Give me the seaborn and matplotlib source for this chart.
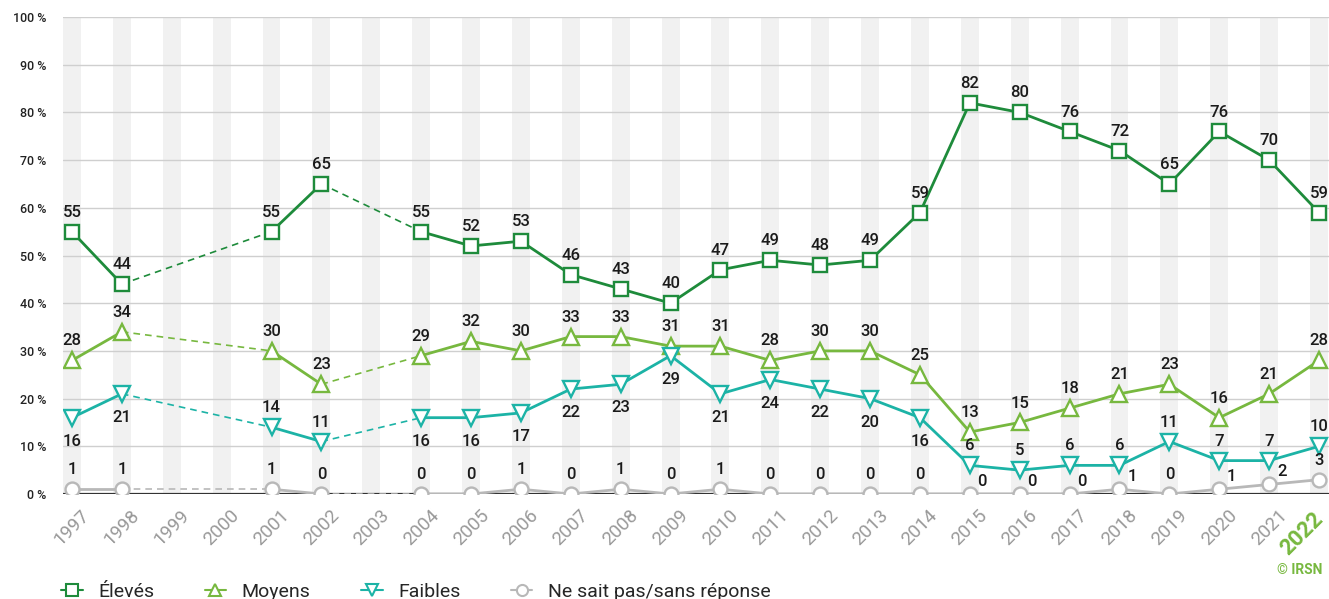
import numpy as np
import pandas as pd
import matplotlib.pyplot as plt
from matplotlib.lines import Line2D
import seaborn as sns

# %% data
years = [1997, 1998, 2001, 2002, 2004, 2005, 2006, 2007, 2008, 2009, 2010, 2011,
         2012, 2013, 2014, 2015, 2016, 2017, 2018, 2019, 2020, 2021, 2022]
eleves = [55, 44, 55, 65, 55, 52, 53, 46, 43, 40, 47, 49, 48, 49, 59, 82, 80, 76, 72, 65, 76, 70, 59]
moyens = [28, 34, 30, 23, 29, 32, 30, 33, 33, 31, 31, 28, 30, 30, 25, 13, 15, 18, 21, 23, 16, 21, 28]
faibles = [16, 21, 14, 11, 16, 16, 17, 22, 23, 29, 21, 24, 22, 20, 16, 6, 5, 6, 6, 11, 7, 7, 10]
nsp = [1, 1, 1, 0, 0, 0, 1, 0, 1, 0, 1, 0, 0, 0, 0, 0, 0, 0, 1, 0, 1, 2, 3]
tick_years = list(range(1997, 2023))
series_names = ["Élevés", "Moyens", "Faibles", "Ne sait pas/sans réponse"]

# %% style
colors = ["#1e8b3b", "#77b83f", "#1cb3a6", "#b8b8b8"]
markers = ["s", "^", "v", "o"]
msizes = [10, 11.5, 11.5, 10]
# label placement: a = above, b = below, r = above right
place_faibles = list("bbaabbbbbbbbbbbaaaaaaaa")
place_nsp = list("aaaaaaaaaaaaaaarrrrarra")
placements = [["a"] * len(years), ["a"] * len(years), place_faibles, place_nsp]

df = pd.DataFrame({"year": years})
for name, vals in zip(series_names, [eleves, moyens, faibles, nsp]):
    df[name] = vals
long = df.melt(id_vars="year", var_name="serie", value_name="value")
# contiguous segments
seg = np.cumsum(np.r_[0, np.diff(years) != 1])
long["seg"] = np.tile(seg, len(series_names))

sns.set_theme(style="white")
plt.rcParams["font.family"] = ["Roboto", "DejaVu Sans"]

fig = plt.figure(figsize=(13.29, 5.99), dpi=100)
ax = fig.add_axes([0.0474, 0.1753, 0.9526, 0.7963])

# background bands
for y in tick_years:
    ax.axvspan(y - 0.18, y + 0.18, ymin=0, ymax=1, color="#f1f1f1", zorder=0, lw=0)
for v in range(10, 101, 10):
    ax.axhline(v, color="#cfcfcf", lw=1, zorder=1)
ax.axhline(0, color="#333333", lw=1.6, zorder=2)

for i, name in enumerate(series_names):
    sub = long[long["serie"] == name]
    sns.lineplot(data=sub, x="year", y="value", units="seg", estimator=None,
                 color=colors[i], lw=2, ax=ax, zorder=3 + i * 0.1, legend=False)
    # dashed links across missing years
    vals = sub["value"].to_numpy()
    for k in range(len(years) - 1):
        if years[k + 1] - years[k] > 1:
            ax.plot([years[k], years[k + 1]], [vals[k], vals[k + 1]], color=colors[i],
                    lw=1.2, ls=(0, (4, 3)), zorder=3)
    ax.plot(years, vals, ls="none", marker=markers[i], ms=msizes[i], mfc="white",
            mec=colors[i], mew=1.7, zorder=5 + i * 0.1)
    for x, v, p in zip(years, vals, placements[i]):
        off = {"a": (0, 14), "b": (0, -17), "r": (9, 9)}[p]
        ax.annotate(str(v), (x, v), xytext=off, textcoords="offset points",
                    ha="center", va="center", fontsize=12, fontweight="medium",
                    color="#1a1a1a", zorder=6)

ax.set_xlim(1996.82, 2022.2)
ax.set_ylim(0, 100)
ax.set_yticks(range(0, 101, 10))
ax.set_yticklabels([f"{v} %" for v in range(0, 101, 10)], fontsize=9,
                   fontweight="medium", color="#222222")
ax.set_xticks(tick_years)
ax.set_xticklabels([str(y) for y in tick_years[:-1]] + [""], rotation=45, ha="center",
                   fontsize=13.5, color="#999999")
# last year highlighted, shifted left so it stays inside the figure
ax.annotate(str(tick_years[-1]), (tick_years[-1], 0), xycoords=("data", "axes fraction"),
            xytext=(-12, -10), textcoords="offset points", rotation=45,
            ha="center", va="top", fontsize=16, fontweight="bold", color=colors[1])
ax.tick_params(axis="both", length=0)
ax.tick_params(axis="y", pad=12)
ax.tick_params(axis="x", pad=9)
ax.set_xlabel("")
ax.set_ylabel("")
for s in ax.spines.values():
    s.set_visible(False)

handles = [Line2D([], [], color=c, lw=1.5, marker=m, ms=8, mfc="white", mec=c, mew=1.5)
           for c, m in zip(colors, markers)]
fig.legend(handles, series_names, loc="center left", bbox_to_anchor=(0.046, 0.012),
           ncol=4, frameon=False, fontsize=14, handlelength=1.1, handletextpad=0.8,
           columnspacing=2.6, borderpad=0, borderaxespad=0)
fig.text(0.995, 0.048, "© IRSN", ha="right", va="center", fontsize=10,
         fontweight="bold", color=colors[1])

fig.savefig("out.png", dpi=100)
